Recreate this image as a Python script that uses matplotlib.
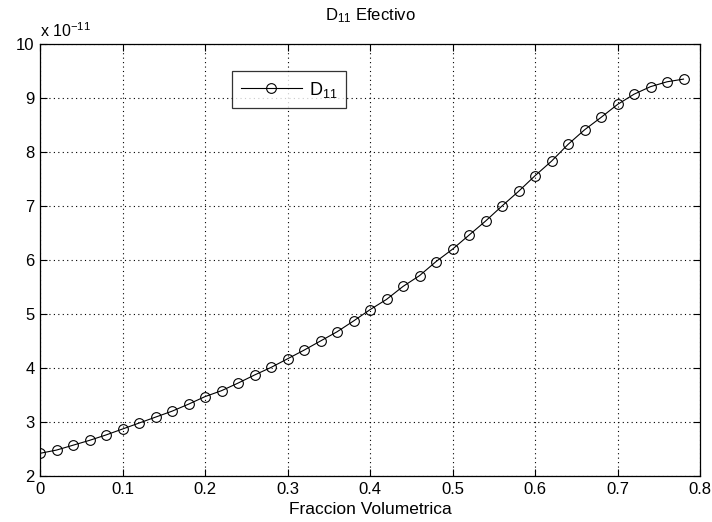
import numpy as np
import matplotlib
matplotlib.use('Agg')
import matplotlib.pyplot as plt

plt.rcParams['font.family'] = ['Liberation Sans', 'DejaVu Sans']
plt.rcParams['mathtext.fontset'] = 'custom'
plt.rcParams['mathtext.rm'] = 'Liberation Sans'
plt.rcParams['mathtext.it'] = 'Liberation Sans'

# fraccion volumetrica y D11 efectivo (en unidades de 1e-11)
fraccion = [0.00, 0.02, 0.04, 0.06, 0.08, 0.10, 0.12, 0.14, 0.16, 0.18,
            0.20, 0.22, 0.24, 0.26, 0.28, 0.30, 0.32, 0.34, 0.36, 0.38,
            0.40, 0.42, 0.44, 0.46, 0.48, 0.50, 0.52, 0.54, 0.56, 0.58,
            0.60, 0.62, 0.64, 0.66, 0.68, 0.70, 0.72, 0.74, 0.76, 0.78]
d11 = [2.42, 2.48, 2.57, 2.66, 2.76, 2.87, 2.98, 3.09, 3.20, 3.33,
       3.47, 3.58, 3.72, 3.87, 4.01, 4.17, 4.33, 4.50, 4.67, 4.87,
       5.08, 5.27, 5.51, 5.71, 5.97, 6.20, 6.46, 6.72, 7.00, 7.27,
       7.56, 7.83, 8.14, 8.41, 8.64, 8.88, 9.07, 9.21, 9.30, 9.35]

xticks = [0, 0.1, 0.2, 0.3, 0.4, 0.5, 0.6, 0.7, 0.8]
xticklabels = ['0', '0.1', '0.2', '0.3', '0.4', '0.5', '0.6', '0.7', '0.8']
yticks = [2, 3, 4, 5, 6, 7, 8, 9, 10]

fig = plt.figure(figsize=(7.12, 5.22), dpi=100)
ax = fig.add_axes([40 / 712, 1 - 476 / 522, 660 / 712, 432 / 522])

ax.plot(fraccion, d11, '-o', color='black', linewidth=0.8,
        markersize=7, markerfacecolor='none', markeredgewidth=0.8,
        label='D$_{11}$')

ax.set_xlim(0, 0.8)
ax.set_ylim(2, 10)
ax.set_xticks(xticks)
ax.set_xticklabels(xticklabels)
ax.set_yticks(yticks)
ax.tick_params(direction='in', top=True, right=True, labelsize=12,
               length=5, width=0.8, colors='black', pad=4)
for s in ax.spines.values():
    s.set_linewidth(0.9)

ax.grid(True, linestyle=(0, (1, 3)), color='black', linewidth=0.8)

ax.set_title('D$_{11}$ Efectivo', fontsize=12, pad=17)
ax.set_xlabel('Fraccion Volumetrica', fontsize=12.5, labelpad=4)
ax.text(0.0, 1.01, 'x 10$^{-11}$', transform=ax.transAxes, fontsize=11.5,
        ha='left', va='bottom')

leg = ax.legend(loc='upper left', bbox_to_anchor=(187 / 660, 1 - 22 / 432),
                fontsize=13, frameon=True, fancybox=False, edgecolor='black',
                handlelength=3.4, handletextpad=0.4, borderpad=0.45,
                borderaxespad=0.3)
leg.get_frame().set_linewidth(0.9)

fig.savefig('out.png', dpi=100, facecolor='white')
